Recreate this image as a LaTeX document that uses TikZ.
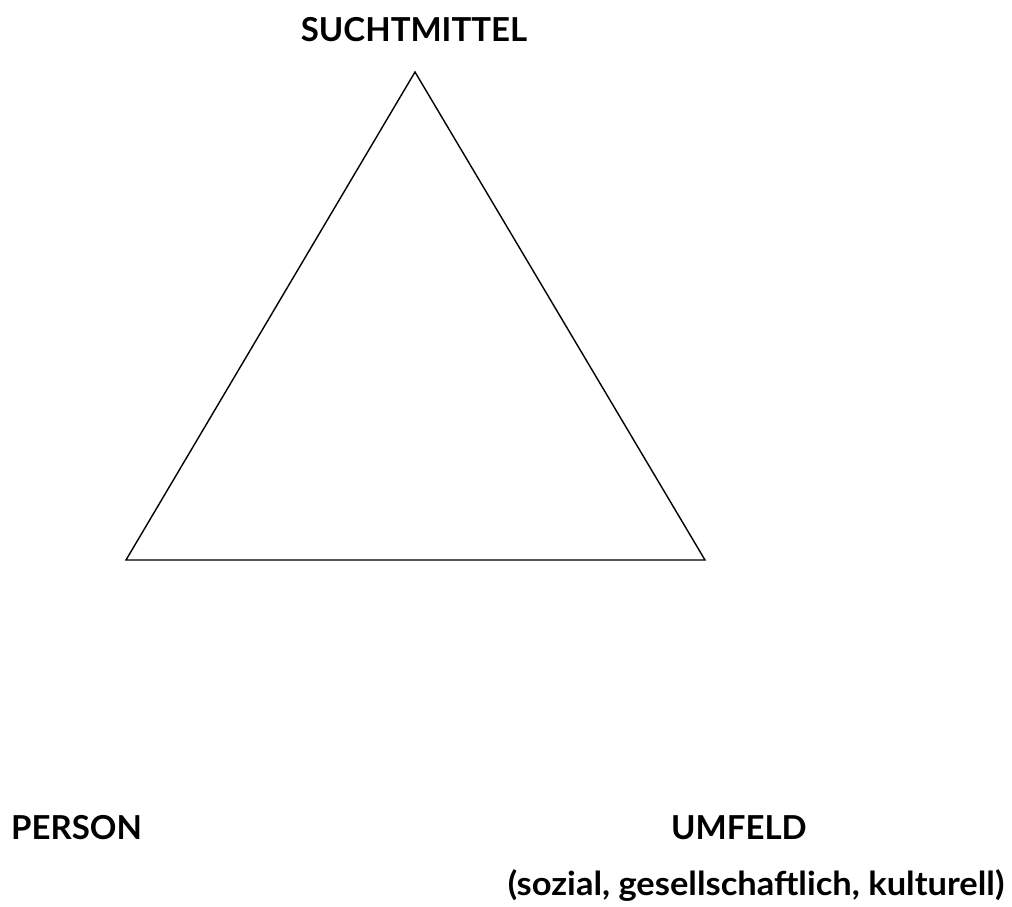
\documentclass[tikz,border=0pt]{standalone}
\usepackage{fontspec}
\usepackage{graphicx}
\setmainfont{Lato}
\begin{document}
\begin{tikzpicture}[x=1pt,y=-1pt,
  lbl/.style={font=\bfseries\fontsize{33}{38}\selectfont, inner sep=0pt, anchor=base},
  edge/.style={line width=1.4pt, line join=miter}]
\useasboundingbox (0,0) rectangle (1012,907);
\coordinate (top) at (415,72);
\coordinate (bl) at (126,560);
\coordinate (br) at (705,560);
\draw[edge] (top) -- (bl) -- (br) -- cycle;
\node[lbl] (sucht) at (414,42) {SUCHTMITTEL};
\node[lbl, anchor=base west] (person) at (11,839) {PERSON};
\node[lbl] (umfeld) at (739,839) {UMFELD};
\node[lbl] (sozial) at (756,895) {\scalebox{1.045}[1]{(sozial, gesellschaftlich, kulturell)}};
\end{tikzpicture}
\end{document}
